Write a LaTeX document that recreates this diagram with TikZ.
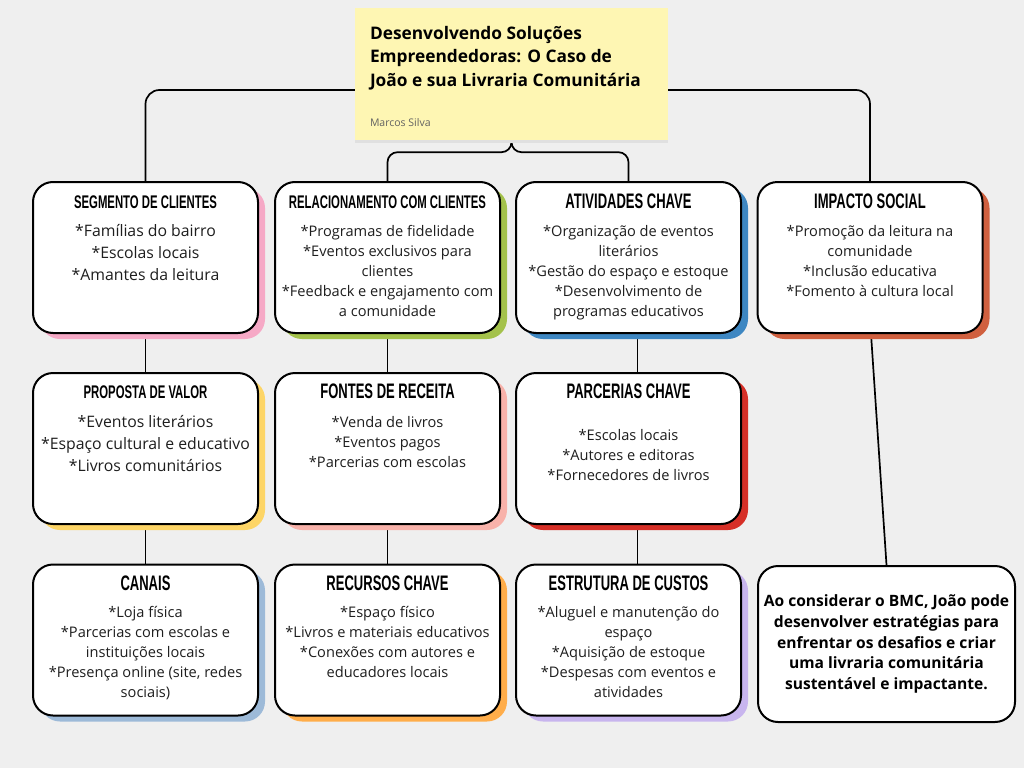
\documentclass[tikz,border=0pt]{standalone}
\usepackage{fontspec}
\setmainfont{Open Sans}
\newfontfamily\headfont{Liberation Sans}[FakeStretch=0.62]
\usepackage{xcolor}
\usetikzlibrary{positioning,shadows}
\pgfdeclarelayer{bg}
\pgfdeclarelayer{back}
\pgfsetlayers{bg,back,main}
\definecolor{bggray}{HTML}{EFEFEF}
\definecolor{noteyellow}{HTML}{FEF6B3}
\definecolor{segpink}{HTML}{F6A9C6}
\definecolor{relgreen}{HTML}{A4C24B}
\definecolor{ativblue}{HTML}{3E87C2}
\definecolor{impred}{HTML}{D0603F}
\definecolor{propyellow}{HTML}{FDD566}
\definecolor{fontsalmon}{HTML}{F8B2AA}
\definecolor{parcred}{HTML}{D62F27}
\definecolor{canblue}{HTML}{9DBAD8}
\definecolor{recorange}{HTML}{FFAD4A}
\definecolor{custlilac}{HTML}{C8B5EE}
\definecolor{inkgray}{HTML}{1E1E1E}

\begin{document}
\begin{tikzpicture}[x=1pt, y=-1pt,
    card/.style={draw=black, line width=2pt, fill=white, rounded corners=20pt,
      minimum width=225pt, minimum height=151pt, inner sep=0pt,
      drop shadow={fill=#1, opacity=1, shadow xshift=7pt, shadow yshift=-6pt}},
    head/.style={inner sep=0pt, text=black, font=\headfont\bfseries\fontsize{21}{24}\selectfont},
    smallhead/.style={head, font=\headfont\bfseries\fontsize{18.3}{21}\selectfont},
    body/.style={inner sep=0pt, align=center, text=inkgray,
      font=\fontsize{14.6}{20}\selectfont, execute at begin node=\strut},
    bigbody/.style={body, font=\fontsize{15.8}{22}\selectfont},
    conn/.style={draw=black, line width=1.7pt, rounded corners=14pt}
  ]
  \begin{pgfonlayer}{bg}
    \path[fill=bggray, use as bounding box] (0,0) rectangle (1024,768);
  \end{pgfonlayer}

  % title note
  \node [fill=noteyellow, minimum width=313pt, minimum height=132pt, inner sep=0pt,
    drop shadow={fill=black!12, opacity=1, shadow xshift=0pt, shadow yshift=-3pt}] (title) at (511.5,74) {};
  \node [anchor=north west, inner sep=0pt, align=left, text=black,
    font=\bfseries\fontsize{17.3}{23.5}\selectfont, execute at begin node=\strut]
    (titletext) at ([xshift=15pt, yshift=-18pt]title.north west)
    {Desenvolvendo Soluções\\Empreendedoras: O Caso de\\João e sua Livraria Comunitária};
  \node [anchor=base west, inner sep=0pt, text=black!62, font=\fontsize{10.5}{12}\selectfont]
    (author) at ([xshift=15pt, yshift=-118.5pt]title.north west) {Marcos Silva};

  % cards
  \node [card=segpink] (seg) at (145.5,257.5) {};
  \node [card=relgreen] (rel) at (387.5,257.5) {};
  \node [card=ativblue] (ativ) at (628.5,257.5) {};
  \node [card=impred] (imp) at (870,257.5) {};
  \node [card=propyellow] (prop) at (145.5,448.5) {};
  \node [card=fontsalmon] (fontes) at (387.5,448.5) {};
  \node [card=parcred] (parc) at (628.5,448.5) {};
  \node [card=canblue] (can) at (145.5,640) {};
  \node [card=recorange] (rec) at (387.5,640) {};
  \node [card=custlilac] (cust) at (628.5,640) {};
  \node [draw=black, line width=2pt, fill=white, rounded corners=20pt, minimum width=257pt,
    minimum height=156pt, inner sep=0pt, align=center, text=black,
    font=\bfseries\fontsize{15.6}{20.8}\selectfont] (concl) at (886.5,644)
    {Ao considerar o BMC, João pode\\desenvolver estratégias para\\enfrentar os desafios e criar\\uma livraria comunitária\\sustentável e impactante.};

  % headings
  \node [smallhead, below=14.5pt] (seghd) at (seg.north) {SEGMENTO DE CLIENTES};
  \node [smallhead, below=14.5pt] (relhd) at (rel.north) {RELACIONAMENTO COM CLIENTES};
  \node [head, below=12.5pt] (ativhd) at (ativ.north) {ATIVIDADES CHAVE};
  \node [head, below=12.5pt] (imphd) at (imp.north) {IMPACTO SOCIAL};
  \node [smallhead, below=13.2pt] (prophd) at (prop.north) {PROPOSTA DE VALOR};
  \node [head, below=11.5pt] (fonteshd) at (fontes.north) {FONTES DE RECEITA};
  \node [head, below=11.5pt] (parchd) at (parc.north) {PARCERIAS CHAVE};
  \node [head, below=11.7pt] (canhd) at (can.north) {CANAIS};
  \node [head, below=11.7pt] (rechd) at (rec.north) {RECURSOS CHAVE};
  \node [head, below=11.7pt] (custhd) at (cust.north) {ESTRUTURA DE CUSTOS};

  % texts
  \node [bigbody, below=15pt] (segbd) at (seghd.south) {*Famílias do bairro\\*Escolas locais\\*Amantes da leitura};
  \node [body, below=16.5pt] (relbd) at (relhd.south) {*Programas de fidelidade\\*Eventos exclusivos para\\clientes\\*Feedback e engajamento com\\a comunidade};
  \node [body, below=16.5pt] (ativbd) at (ativhd.south) {*Organização de eventos\\literários\\*Gestão do espaço e estoque\\*Desenvolvimento de\\programas educativos};
  \node [body, below=16pt] (impbd) at (imphd.south) {*Promoção da leitura na\\comunidade\\*Inclusão educativa\\*Fomento à cultura local};
  \node [bigbody, below=17pt] (propbd) at (prophd.south) {*Eventos literários\\*Espaço cultural e educativo\\*Livros comunitários};
  \node [body, below=17.5pt] (fontesbd) at (fonteshd.south) {*Venda de livros\\*Eventos pagos\\*Parcerias com escolas};
  \node [body, below=30pt] (parcbd) at (parchd.south) {*Escolas locais\\*Autores e editoras\\*Fornecedores de livros};
  \node [body, below=16pt] (canbd) at (canhd.south) {*Loja física\\*Parcerias com escolas e\\instituições locais\\*Presença online (site, redes\\sociais)};
  \node [body, below=15.7pt] (recbd) at (rechd.south) {*Espaço físico\\*Livros e materiais educativos\\*Conexões com autores e\\educadores locais};
  \node [body, below=16pt] (custbd) at (custhd.south) {*Aluguel e manutenção do\\espaço\\*Aquisição de estoque\\*Despesas com eventos e\\atividades};

  % links
  \begin{pgfonlayer}{back}
    \draw [conn] ([yshift=-16pt]title.west) -| (seg.north);
    \draw [conn] ([yshift=-16pt]title.east) -| (imp.north);
    \draw [conn, rounded corners=10pt] (rel.north) |- ([yshift=-12pt]title.south) -- (title.south);
    \draw [conn, rounded corners=10pt] (title.south) -- ([yshift=-12pt]title.south) -| (ativ.north);
    \draw [conn] (seg.south) -- (prop.north);
    \draw [conn] (prop.south) -- (can.north);
    \draw [conn] (rel.south) -- (fontes.north);
    \draw [conn] (fontes.south) -- (rec.north);
    \draw [conn] ([xshift=9pt]ativ.south) -- ([xshift=9pt]parc.north);
    \draw [conn] ([xshift=9pt]parc.south) -- ([xshift=9pt]cust.north);
    \draw [conn] ([xshift=1pt]imp.south) -- (concl.north);
  \end{pgfonlayer}
\end{tikzpicture}
\end{document}
